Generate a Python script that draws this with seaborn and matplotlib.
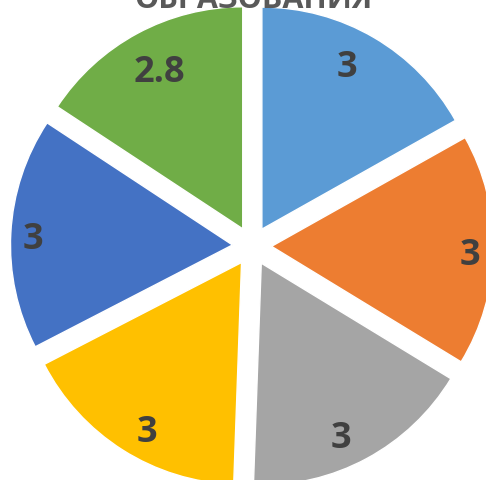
import matplotlib
matplotlib.use("Agg")
import matplotlib.pyplot as plt
import seaborn as sns
import numpy as np

# data
categories = ["1", "2", "3", "4", "5", "6"]
values = [3, 3, 3, 3, 3, 2.8]
value_labels = ["3", "3", "3", "3", "3", "2.8"]
slice_colors = ["#5B9BD5", "#ED7D31", "#A5A5A5", "#FFC000", "#4472C4", "#70AD47"]
title = "ОБРАЗОВАНИЯ"

# data label placement (Excel best fit): fraction of radius, degrees off the bisector
label_radii = [0.832, 0.892, 0.857, 0.864, 0.90, 0.81]
label_turn = [3.0, -0.9, -3.5, 2.8, 0.7, -0.7]

sns.set_theme(style="white")
plt.rcParams['font.family'] = ['Open Sans', 'DejaVu Sans']

W, H = 486, 481
fig = plt.figure(figsize=(W / 100, H / 100), dpi=100)
ax = fig.add_axes([0, 0, 1, 1])

pal = sns.color_palette(slice_colors)
wedges, texts = ax.pie(values, colors=pal, startangle=90, counterclock=False,
                       explode=[0.088] * len(values))

for w, lab, d, t in zip(wedges, value_labels, label_radii, label_turn):
    th = np.deg2rad((w.theta1 + w.theta2) / 2 + t)
    x = w.center[0] + d * w.r * np.cos(th)
    y = w.center[1] + d * w.r * np.sin(th) - 0.01
    ax.text(x, y, lab, fontsize=26, fontweight='bold', color='#404040',
            ha='center', va='center')

# center of pie at pixel (252, 247), radius 222 px
r = 222.0
cx, cy = 252.0, 247.0
ax.set_xlim(-cx / r, (W - cx) / r)
ax.set_ylim(-(H - cy) / r, cy / r)
ax.set_aspect('auto')
ax.axis('off')

fig.text(253 / W, 1 - 8 / H, title, ha='center', va='baseline',
         fontsize=22, fontweight='bold', color='#595959')

fig.savefig("out.png", dpi=100)
